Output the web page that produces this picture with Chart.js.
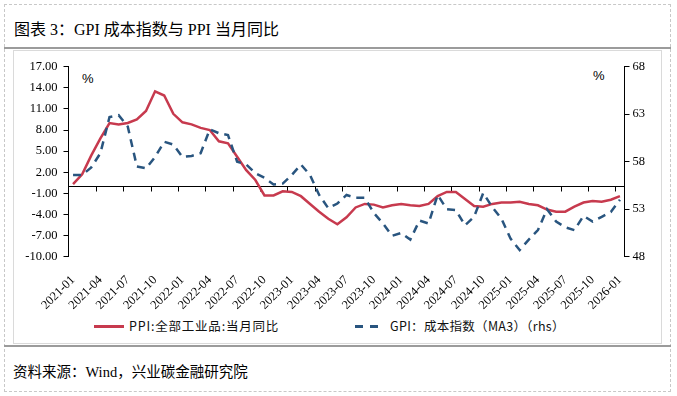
<!DOCTYPE html>
<html>
<head>
<meta charset="utf-8">
<script src="https://cdn.jsdelivr.net/npm/chart.js@4.4.1/dist/chart.umd.min.js"></script>
<style>
html, body { margin: 0; padding: 0; background: #fff; }
#wrap { position: relative; width: 677px; height: 396px; overflow: hidden;
        font-family: 'Liberation Serif', 'Noto Sans CJK SC', serif; color: #000; }
.abs { position: absolute; white-space: nowrap; }
#c { position: absolute; left: 0; top: 0; }
.lg { font-family: 'Noto Sans CJK SC', sans-serif; font-size: 12.5px; line-height: 16px; color: #111; }
</style>
</head>
<body>
<div id="wrap">
  <div class="abs" style="left:4px;top:4px;width:667px;height:388px;border:1px dashed #c8c8c8;box-sizing:border-box"></div>
  <div class="abs" style="left:14px;top:19px;font-size:16px;line-height:22px">图表 3：GPI 成本指数与 PPI 当月同比</div>
  <div class="abs" style="left:4px;top:47px;width:667px;height:2px;background:#9b9b9b"></div>
  <div class="abs" style="left:13px;top:50px;width:649px;height:294px;border:1px solid #dadada;box-sizing:border-box"></div>
  <div class="abs" style="left:4px;top:345px;width:667px;height:2px;background:#9b9b9b"></div>
  <div class="abs" style="left:13px;top:362px;font-size:14.5px;line-height:20px">资料来源：Wind，兴业碳金融研究院</div>

  <div class="abs" style="left:82px;top:71px;font-family:'Liberation Sans',sans-serif;font-size:13px;line-height:16px">%</div>
  <div class="abs" style="left:593px;top:68px;font-family:'Liberation Sans',sans-serif;font-size:13px;line-height:16px">%</div>

  <div class="abs" style="left:94px;top:325px;width:30px;height:3px;background:#C73A4E"></div>
  <div class="abs lg" style="left:129px;top:318px;letter-spacing:0.8px">PPI:全部工业品:当月同比</div>
  <div class="abs" style="left:355px;top:325px;width:8px;height:3px;background:#29557F"></div>
  <div class="abs" style="left:370px;top:325px;width:8px;height:3px;background:#29557F"></div>
  <div class="abs lg" style="left:390px;top:318px;letter-spacing:0.3px">GPI：成本指数（MA3）（rhs）</div>

  <canvas id="c" width="677" height="396"></canvas>
</div>
<script>
// months, labelled every 3rd
const months = [
  '2021-01','2021-02','2021-03','2021-04','2021-05','2021-06','2021-07','2021-08','2021-09','2021-10','2021-11','2021-12',
  '2022-01','2022-02','2022-03','2022-04','2022-05','2022-06','2022-07','2022-08','2022-09','2022-10','2022-11','2022-12',
  '2023-01','2023-02','2023-03','2023-04','2023-05','2023-06','2023-07','2023-08','2023-09','2023-10','2023-11','2023-12',
  '2024-01','2024-02','2024-03','2024-04','2024-05','2024-06','2024-07','2024-08','2024-09','2024-10','2024-11','2024-12',
  '2025-01','2025-02','2025-03','2025-04','2025-05','2025-06','2025-07','2025-08','2025-09','2025-10','2025-11','2025-12',
  '2026-01'
];

// PPI yoy, % (left axis)
const ppi = [
  0.3, 1.7, 4.4, 6.8, 9.0, 8.8, 9.0, 9.5, 10.7, 13.5, 12.9, 10.3,
  9.1, 8.8, 8.3, 8.0, 6.4, 6.1, 4.2, 2.3, 0.9, -1.3, -1.3, -0.7,
  -0.8, -1.4, -2.5, -3.6, -4.6, -5.4, -4.4, -3.0, -2.5, -2.6, -3.0, -2.7,
  -2.5, -2.7, -2.8, -2.5, -1.4, -0.8, -0.8, -1.8, -2.8, -2.9, -2.5, -2.3,
  -2.3, -2.2, -2.5, -2.7, -3.3, -3.6, -3.6, -2.9, -2.3, -2.1, -2.2, -1.9,
  -1.4
];

// GPI cost index MA3 (right axis)
const gpi = [
  56.6, 56.6, 57.4, 58.9, 62.7, 62.9, 61.7, 57.5, 57.3, 58.5, 60.1, 59.8,
  58.5, 58.6, 58.9, 61.4, 61.0, 60.8, 58.0, 57.7, 56.8, 56.3, 55.6, 55.7,
  56.6, 57.7, 56.6, 54.5, 53.1, 53.6, 54.5, 54.2, 54.2, 52.6, 51.5, 50.2,
  50.5, 49.8, 51.8, 51.5, 54.5, 53.0, 52.9, 51.3, 52.2, 54.7, 53.2, 52.0,
  49.9, 48.7, 49.8, 50.8, 53.0, 51.7, 51.1, 50.8, 52.3, 51.7, 52.2, 52.7,
  54.0
];

const leftTicks = [-10, 17, 3];
const rightTicks = [48, 68, 5];

Chart.defaults.font.family = "'Liberation Serif', 'Noto Sans CJK SC', serif";
Chart.defaults.font.size = 12.5;
Chart.defaults.color = '#000';

// horizontal axis line sits at 0 on the left scale
const zeroAxis = {
  id: 'zeroAxis',
  beforeDatasetsDraw(chart) {
    const { ctx, chartArea: a, scales: { x, y } } = chart;
    const y0 = Math.round(y.getPixelForValue(0)) + 0.5;
    const half = (x.getPixelForValue(1) - x.getPixelForValue(0)) / 2;
    ctx.save();
    ctx.strokeStyle = '#000';
    ctx.lineWidth = 1;
    ctx.beginPath();
    ctx.moveTo(a.left, y0);
    ctx.lineTo(a.right, y0);
    for (let i = 3; i < months.length; i += 3) {
      const px = Math.round(x.getPixelForValue(i) - half) + 0.5;
      ctx.moveTo(px, y0);
      ctx.lineTo(px, y0 + 5);
    }
    ctx.stroke();
    ctx.restore();
  }
};

new Chart(document.getElementById('c'), {
  type: 'line',
  data: {
    labels: months,
    datasets: [
      {
        label: 'PPI:全部工业品:当月同比',
        data: ppi,
        yAxisID: 'y',
        borderColor: '#C73A4E',
        borderWidth: 2.5,
        pointRadius: 0,
        tension: 0,
        order: 2
      },
      {
        label: 'GPI：成本指数（MA3）（rhs）',
        data: gpi,
        yAxisID: 'y1',
        borderColor: '#29557F',
        borderWidth: 2.5,
        borderDash: [8, 6],
        pointRadius: 0,
        tension: 0,
        order: 1
      }
    ]
  },
  options: {
    responsive: false,
    animation: false,
    layout: { padding: { top: 66.7, left: 0, right: 0, bottom: 0 } },
    plugins: { legend: { display: false }, tooltip: { enabled: false } },
    scales: {
      x: {
        offset: true,
        grid: { display: false, drawTicks: false },
        border: { display: false },
        ticks: {
          autoSkip: false,
          maxRotation: 45,
          minRotation: 45,
          padding: 16,
          callback: (v, i) => (i % 3 === 0 ? months[i] : '')
        },
        afterFit: s => { s.height = 139.3; }
      },
      y: {
        position: 'left',
        min: leftTicks[0],
        max: leftTicks[1],
        ticks: { stepSize: leftTicks[2], padding: 6, callback: v => v.toFixed(2) },
        grid: { drawOnChartArea: false, drawTicks: true, tickLength: 5, color: '#000' },
        border: { display: true, color: '#000' },
        afterFit: s => { s.width = 68.5; }
      },
      y1: {
        position: 'right',
        min: rightTicks[0],
        max: rightTicks[1],
        ticks: { stepSize: rightTicks[2], padding: 3 },
        grid: { drawOnChartArea: false, drawTicks: true, tickLength: 5, color: '#000' },
        border: { display: true, color: '#000' },
        afterFit: s => { s.width = 52.5; }
      }
    }
  },
  plugins: [zeroAxis]
});
</script>
</body>
</html>
